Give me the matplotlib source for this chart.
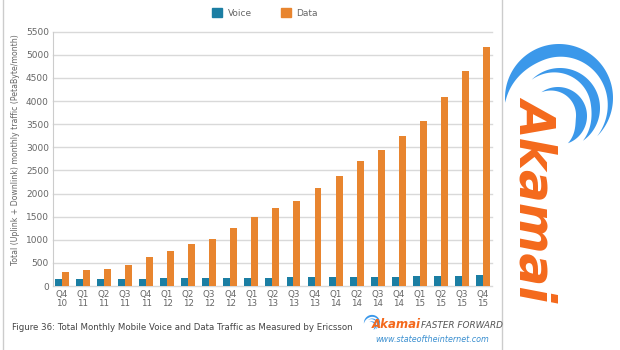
import matplotlib.pyplot as plt
from matplotlib.patches import Patch, Polygon
import numpy as np

quarters = ["Q4", "Q1", "Q2", "Q3", "Q4", "Q1", "Q2", "Q3", "Q4", "Q1", "Q2",
            "Q3", "Q4", "Q1", "Q2", "Q3", "Q4", "Q1", "Q2", "Q3", "Q4"]
years = ["10", "11", "11", "11", "11", "12", "12", "12", "12", "13", "13",
         "13", "13", "14", "14", "14", "14", "15", "15", "15", "15"]
voice = [145, 148, 150, 155, 162, 168, 172, 175, 178, 180, 183,
         185, 188, 190, 195, 200, 205, 210, 215, 222, 232]
data = [296, 340, 375, 461, 627, 757, 901, 1024, 1261, 1485, 1694,
        1845, 2112, 2385, 2697, 2935, 3250, 3575, 4094, 4656, 5175]
yticks = list(range(0, 5501, 500))

voice_color = "#1b7ea3"
data_color = "#e8852f"
akamai_orange = "#f4691c"
akamai_blue = "#3b98ea"
text_gray = "#666666"

fig = plt.figure(figsize=(6.2, 3.5), dpi=100)

# chart
ax = fig.add_axes([53 / 620, 1 - 286 / 350, (492 - 53) / 620, (286 - 31.7) / 350])
x = np.arange(len(quarters))
w = 0.33
ax.bar(x - w / 2, voice, w, color=voice_color, zorder=3)
ax.bar(x + w / 2, data, w, color=data_color, zorder=3)
ax.set_xlim(-0.42, 20.43)
ax.set_ylim(0, 5500)
ax.set_yticks(yticks)
ax.set_yticklabels([str(v) for v in yticks], fontsize=6.5, color=text_gray)
ax.set_xticks(x)
ax.set_xticklabels([q + "\n" + y for q, y in zip(quarters, years)],
                   fontsize=6.3, color=text_gray, linespacing=1.0)
ax.tick_params(length=0, pad=3)
ax.grid(axis="y", color="#d9d9d9", linewidth=1.0, zorder=0)
for s in ["top", "right", "bottom"]:
    ax.spines[s].set_visible(False)
ax.spines["left"].set_color("#cccccc")
ax.spines["left"].set_linewidth(0.8)
for t in ax.get_ygridlines():
    t.set_clip_on(False)

fig.text(16 / 620, 1 - 150 / 350,
         "Total (Uplink + Downlink) monthly traffic (PetaByte/month)",
         rotation=90, ha="center", va="center", fontsize=5.6, color=text_gray)

handles = [Patch(color=voice_color), Patch(color=data_color)]
fig.legend(handles, ["Voice", "Data"], loc="center", bbox_to_anchor=(265 / 620, 1 - 13 / 350),
           ncol=2, frameon=False, fontsize=6.5, handlelength=1.1, handleheight=1.1,
           columnspacing=3.2, handletextpad=0.6, labelcolor=text_gray)

fig.text(12 / 620, 1 - 327 / 350,
         "Figure 36: Total Monthly Mobile Voice and Data Traffic as Measured by Ericsson",
         ha="left", va="center", fontsize=6.2, color="#444444")

# decorations in pixel coordinates
deco = fig.add_axes([0, 0, 1, 1], zorder=-1)
deco.set_xlim(0, 620)
deco.set_ylim(350, 0)
deco.axis("off")
deco.plot([3, 3], [0, 350], color="#cccccc", linewidth=1)
deco.plot([502, 502], [0, 350], color="#cccccc", linewidth=1)


def arc_band(axx, cx, cy, r, t0, tp, t1, tmax, color):
    # arc of radius r, thickness growing from t0 to a peak at tp and shrinking to t1
    t = np.linspace(t0, t1, 120)
    th = np.where(t < tp,
                  np.sin(np.pi / 2 * (t - t0) / (tp - t0)),
                  np.sin(np.pi / 2 * (t1 - t) / (t1 - tp))) * tmax
    a = np.radians(t)
    outer = np.column_stack([cx + r * np.cos(a), cy + r * np.sin(a)])
    inner = np.column_stack([cx + (r - th) * np.cos(a), cy + (r - th) * np.sin(a)])
    axx.add_patch(Polygon(np.vstack([outer, inner[::-1]]), closed=True, color=color, lw=0))


def swoosh(axx, bx, by, s, color):
    arc_band(axx, bx, by, 54 * s, 175, 250, 405, 13 * s, color)
    arc_band(axx, bx + 1 * s, by + 10 * s, 40 * s, 225, 350, 415, 9 * s, color)
    arc_band(axx, bx - 1 * s, by + 18 * s, 29 * s, 235, 365, 430, 11 * s, color)


swoosh(deco, 559, 98, 1.0, akamai_blue)
deco.text(537, 197, "Akamai", rotation=-90, ha="center", va="center",
          fontsize=35, fontweight="bold", fontstyle="italic", color=akamai_orange)

# small logo at bottom
swoosh(deco, 372, 323, 0.15, akamai_blue)
deco.text(372, 325, "Akamai", ha="left", va="center", fontsize=8.5,
          fontweight="bold", fontstyle="italic", color=akamai_orange)
deco.text(421, 326, "FASTER FORWARD", ha="left", va="center", fontsize=6.4,
          fontstyle="italic", color="#555555")
deco.text(489, 340, "www.stateoftheinternet.com", ha="right", va="center",
          fontsize=5.8, fontstyle="italic", color="#3a8fd0")

fig.savefig("out.png", dpi=100)
